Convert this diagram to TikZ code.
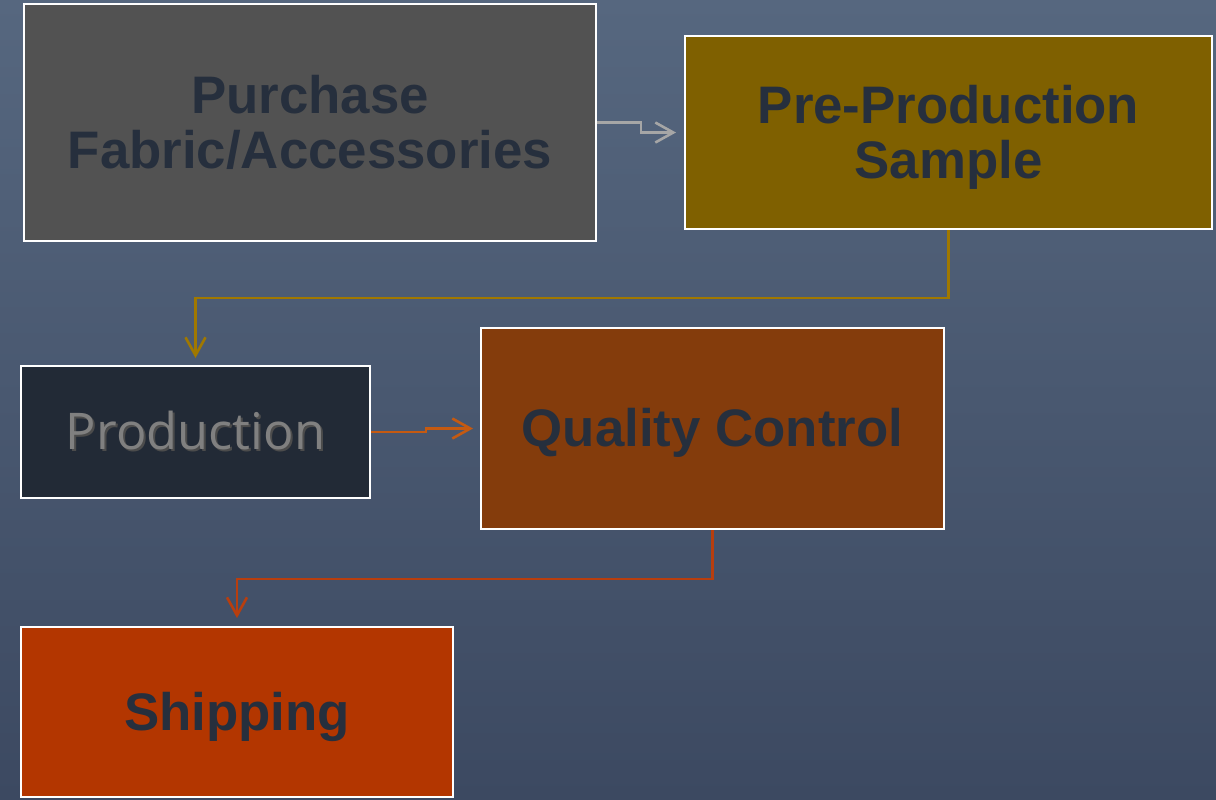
\documentclass[tikz,border=0pt]{standalone}
\usepackage{fontspec}
\setmainfont{Liberation Sans}
\newfontfamily\prodfont{Open Sans}
\usepackage{tikz}
\usetikzlibrary{arrows.meta,positioning}
\definecolor{bgtop}{HTML}{56677F}
\definecolor{bgbottom}{HTML}{3C4961}
\definecolor{boxtext}{HTML}{262F3D}
\definecolor{purchasefill}{HTML}{525252}
\definecolor{samplefill}{HTML}{7F6000}
\definecolor{productionfill}{HTML}{222A36}
\definecolor{qualityfill}{HTML}{843C0C}
\definecolor{shippingfill}{HTML}{B33600}
\definecolor{arrowgray}{HTML}{A6A6A6}
\definecolor{arrowgold}{HTML}{A07800}
\definecolor{arroworange}{HTML}{C55A11}
\definecolor{arrowred}{HTML}{B83E0E}
\newcommand{\shadowed}[1]{\rlap{\raisebox{-1pt}{\hspace{1pt}\textcolor{black!70}{#1}}}#1}
% line box as the slide sets it
\newcommand{\topstrut}{\rule{0pt}{0.905em}}
\newcommand{\botstrut}{\rule[-0.212em]{0pt}{0.212em}}
\begin{document}
\begin{tikzpicture}[x=0.5pt,y=-0.5pt]
      \shade[top color=bgtop, bottom color=bgbottom] (0,0) rectangle (1216,799);
      \useasboundingbox (0,0) rectangle (1216,799);

      \begin{scope}[every node/.style={rectangle, draw=white, line width=1pt, align=center,
                    text=boxtext, font=\bfseries\fontsize{26.4}{27.5}\selectfont}]
          \node[fill=purchasefill, minimum width=286pt, minimum height=118.5pt]
              (purchase) at (310,122.5) {\topstrut Purchase\\Fabric/Accessories\botstrut};
          \node[fill=samplefill, minimum width=263.5pt, minimum height=96.5pt]
              (sample) at (948.5,132.5) {\topstrut Pre-Production\\Sample\botstrut};
          \node[fill=productionfill, minimum width=174.5pt, minimum height=66pt,
                text=black!50, font=\prodfont\fontsize{25.3}{27}\selectfont]
              (production) at (195.5,432) {\topstrut\botstrut\shadowed{Production}};
          \node[fill=qualityfill, minimum width=231.5pt, minimum height=100.5pt]
              (quality) at (712.5,428.5) {\topstrut\botstrut Quality Control};
          \node[fill=shippingfill, minimum width=216pt, minimum height=85pt]
              (shipping) at (237,712) {\topstrut\botstrut Shipping};
      \end{scope}

      \begin{scope}[>={Straight Barb[length=9pt, width=10pt]}, line width=1.3pt]
        \draw[->, arrowgray, shorten >=4pt] (purchase.east) -- ++(44,0) |- (sample.west);
        \draw[->, arrowgold, shorten >=3.5pt] (sample.south) -- ++(0,68) -| (production.north);
        \draw[->, arroworange, shorten >=3.5pt] (production.east) -- ++(55,0) |- (quality.west);
        \draw[->, arrowred, shorten >=4pt] (quality.south) -- ++(0,49) -| (shipping.north);
      \end{scope}
\end{tikzpicture}
\end{document}
